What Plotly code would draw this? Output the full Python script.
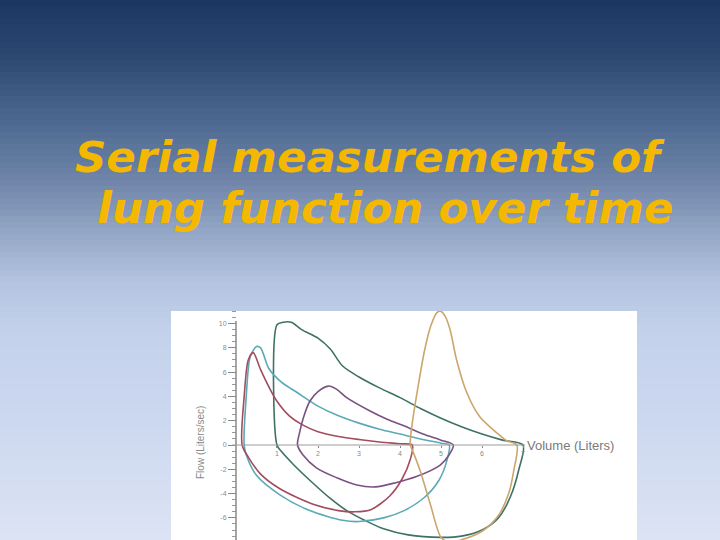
import plotly.graph_objects as go

# ---------------- data ----------------
green_vol = [1.0, 1.0, 1.15, 1.35, 1.6, 2.0, 2.3, 2.6, 3.0, 3.5, 4.0, 4.5, 5.0, 5.5, 6.0, 6.5, 7.0,
             6.9, 6.7, 6.4, 6.0, 5.5, 5.0, 4.2, 3.6, 3.2, 2.7, 2.3, 1.8, 1.4, 1.1, 1.0]
green_flow = [0.0, 9.9, 10.1, 10.1, 9.5, 8.8, 7.9, 6.5, 5.6, 4.7, 3.9, 3.0, 2.2, 1.5, 0.9, 0.4, 0.0,
              -2.0, -4.2, -6.0, -7.0, -7.5, -7.6, -7.4, -6.9, -6.3, -5.4, -4.4, -2.9, -1.6, -0.5, 0.0]

teal_vol = [0.2, 0.25, 0.35, 0.5, 0.6, 0.8, 1.1, 1.5, 2.0, 2.5, 3.0, 3.5, 4.0, 4.5, 5.0, 5.2,
            5.15, 4.95, 4.6, 4.1, 3.6, 3.0, 2.6, 1.8, 1.07, 0.5, 0.25, 0.2]
teal_flow = [0.0, 4.0, 7.3, 8.1, 8.0, 6.3, 5.2, 4.3, 3.2, 2.4, 1.8, 1.3, 0.9, 0.5, 0.15, 0.0,
             -1.2, -2.9, -4.3, -5.4, -6.0, -6.3, -6.2, -5.4, -4.1, -2.5, -0.8, 0.0]

red_vol = [0.15, 0.2, 0.3, 0.42, 0.6, 0.8, 1.0, 1.3, 1.6, 2.0, 2.5, 3.0, 3.5, 4.0, 4.3,
           4.25, 4.05, 3.75, 3.3, 2.9, 2.5, 1.9, 1.07, 0.6, 0.3, 0.15]
red_flow = [0.0, 4.0, 7.0, 7.6, 6.2, 4.8, 3.6, 2.4, 1.7, 1.1, 0.7, 0.45, 0.25, 0.1, 0.0,
            -1.2, -2.8, -4.2, -5.3, -5.5, -5.4, -4.9, -3.6, -2.4, -1.0, 0.0]

purple_vol = [1.5, 1.55, 1.64, 1.8, 2.0, 2.25, 2.45, 2.7, 3.27, 3.7, 4.08, 4.56, 5.0, 5.3,
              5.2, 4.98, 4.4, 3.9, 3.4, 2.95, 2.46, 1.97, 1.63, 1.5]
purple_flow = [0.0, 1.0, 2.2, 3.6, 4.4, 4.85, 4.6, 3.9, 2.8, 2.1, 1.6, 0.9, 0.4, 0.0,
               -0.8, -1.65, -2.6, -3.1, -3.45, -3.3, -2.7, -1.9, -0.8, 0.0]

tan_vol = [4.25, 4.3, 4.45, 4.6, 4.75, 4.9, 5.0, 5.1, 5.22, 5.38, 5.63, 5.95, 6.36, 6.6, 6.85,
           6.78, 6.65, 6.4, 6.0, 5.5, 5.2, 5.0, 4.75, 4.5, 4.3, 4.25]
tan_flow = [0.0, 1.8, 5.0, 7.8, 9.8, 10.9, 11.0, 10.6, 9.5, 7.0, 4.3, 2.3, 1.0, 0.35, 0.0,
            -2.0, -4.0, -5.8, -7.1, -7.8, -8.0, -7.6, -5.0, -2.2, -0.4, 0.0]

x_ticks = [1, 2, 3, 4, 5, 6, 7]
y_ticks = [-6, -4, -2, 0, 2, 4, 6, 8, 10]

title_line1 = "Serial measurements of"
title_line2 = "lung function over time"

# ---------------- figure ----------------
W, H = 720, 540
fig = go.Figure()

series = [
    (green_vol, green_flow, "#3d7264"),
    (teal_vol, teal_flow, "#5aaab6"),
    (red_vol, red_flow, "#a24c5e"),
    (purple_vol, purple_flow, "#7d5084"),
    (tan_vol, tan_flow, "#cba66c"),
]
for xs, ys, col in series:
    fig.add_trace(go.Scatter(x=xs, y=ys, mode="lines",
                             line=dict(color=col, width=1.6, shape="spline", smoothing=0.8),
                             hoverinfo="skip", showlegend=False))

# gradient background bands
stops = [(0, (27, 54, 97)), (60, (46, 74, 116)), (120, (76, 104, 144)), (180, (111, 132, 168)),
         (230, (145, 165, 196)), (280, (179, 195, 224)), (330, (195, 209, 234)),
         (420, (204, 216, 240)), (540, (220, 227, 244))]

def col_at(y):
    for (y0, c0), (y1, c1) in zip(stops[:-1], stops[1:]):
        if y0 <= y <= y1:
            t = (y - y0) / (y1 - y0)
            return "rgb(%d,%d,%d)" % tuple(round(a + (b - a) * t) for a, b in zip(c0, c1))
    return "rgb(%d,%d,%d)" % stops[-1][1]

shapes = []
band = 6
for y in range(0, H, band):
    shapes.append(dict(type="rect", xref="paper", yref="paper", x0=0, x1=1,
                       y0=1 - (y + band + 1) / H, y1=1 - y / H,
                       fillcolor=col_at(y + band / 2), line=dict(width=0), layer="below"))

x0p, x1p = 171 / W, 637 / W
# white picture panel
shapes.append(dict(type="rect", xref="paper", yref="paper", x0=x0p, x1=x1p,
                   y0=0, y1=229 / H, fillcolor="white", line=dict(width=0), layer="below"))

# axis lines
shapes.append(dict(type="line", xref="x", yref="y", x0=0, x1=0, y0=-8.2, y1=10.2,
                   line=dict(color="#8a8a8a", width=1.5)))
shapes.append(dict(type="line", xref="x", yref="y", x0=-0.1, x1=7.05, y0=0, y1=0,
                   line=dict(color="#9a9a9a", width=1)))

fig.update_layout(
    width=W, height=H,
    margin=dict(l=0, r=0, t=0, b=0),
    paper_bgcolor="#c9d6ee",
    plot_bgcolor="white",
    shapes=shapes,
    xaxis=dict(domain=[x0p, x1p], range=[-1.585, 9.78], anchor="free", position=95 / H,
               showgrid=False, zeroline=False, showline=False,
               tickvals=x_ticks, ticktext=[str(v) for v in x_ticks],
               ticks="outside", ticklen=2, tickcolor="#888",
               tickfont=dict(size=7, color="#8a8a8a", family="Liberation Sans")),
    yaxis=dict(domain=[0, 229 / H], range=[-7.82, 11.03], anchor="free", position=236 / W,
               showgrid=False, zeroline=False, showline=False,
               tickvals=y_ticks, ticktext=[str(v) for v in y_ticks],
               ticks="outside", ticklen=8, tickcolor="#888",
               minor=dict(dtick=0.5, ticks="outside", ticklen=4, tickcolor="#999"),
               tickfont=dict(size=7, color="#8a8a8a", family="Liberation Sans")),
    annotations=[
        dict(text=title_line1, xref="paper", yref="paper", x=73 / W, y=1 - 157 / H,
             xanchor="left", yanchor="middle", showarrow=False,
             font=dict(family="DejaVu Sans", size=43.5, color="#f5b800", weight="bold", style="italic")),
        dict(text=title_line2, xref="paper", yref="paper", x=95 / W, y=1 - 208 / H,
             xanchor="left", yanchor="middle", showarrow=False,
             font=dict(family="DejaVu Sans", size=43.5, color="#f5b800", weight="bold", style="italic")),
        dict(text="Volume (Liters)", xref="x", yref="y", x=7.05, y=0,
             xanchor="left", yanchor="middle", showarrow=False,
             font=dict(family="Liberation Sans", size=13, color="#7a7a7a")),
        dict(text="Flow (Liters/sec)", xref="paper", yref="paper", x=200 / W, y=1 - 443 / H,
             xanchor="center", yanchor="middle", showarrow=False, textangle=-90,
             font=dict(family="Liberation Sans", size=10, color="#8a8a8a")),
    ],
)

fig.write_html("out.html", config={"displayModeBar": False},
               post_script="document.body.style.margin='0';document.body.style.padding='0';")
